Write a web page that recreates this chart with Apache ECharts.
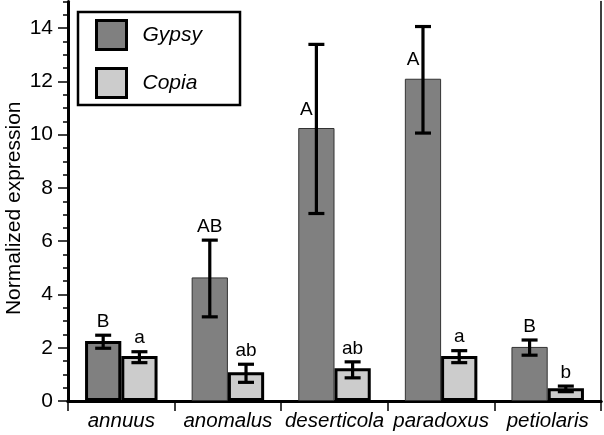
<!DOCTYPE html>
<html><head><meta charset="utf-8">
<script src="https://cdn.jsdelivr.net/npm/echarts@6/dist/echarts.min.js"></script>
<style>html,body{margin:0;padding:0;background:#fff}#c{width:604px;height:435px}</style>
</head><body><div id="c"></div>
<script>
const categories = ['annuus','anomalus','deserticola','paradoxus','petiolaris'];
const gypsyMean = [2.25, 4.64, 10.25, 12.10, 2.03];
const gypsyLow  = [1.98, 3.16, 7.04, 10.06, 1.72];
const gypsyHigh = [2.47, 6.04, 13.39, 14.06, 2.29];
const gypsyLetters = ['B','AB','A','A','B'];
const copiaMean = [1.69, 1.08, 1.23, 1.69, 0.48];
const copiaLow  = [1.44, 0.70, 0.87, 1.44, 0.35];
const copiaHigh = [1.85, 1.38, 1.47, 1.89, 0.56];
const copiaLetters = ['a','ab','ab','a','b'];
const yTickLabels = [0,2,4,6,8,10,12,14];
const yMinorTicks = [];
for (let v = 0; v <= 15; v += 0.5) yMinorTicks.push(v);

const CAT_GAP = 0.32;
const FONT = '"Liberation Sans", Arial, Helvetica, sans-serif';
const GYPSY_COLOR = '#808080';
const COPIA_COLOR = '#cccccc';

function errSeries(name, means, lows, highs, letters, side) {
  return {
    type: 'custom', name: name + ' err', z: 10, silent: true,
    xAxisIndex: 0, yAxisIndex: 0,
    data: categories.map((c, i) => [i, means[i], lows[i], highs[i]]),
    encode: { x: 0, y: [1, 2, 3] },
    renderItem(params, api) {
      const i = api.value(0);
      const band = api.size([1, 0])[0];
      const bw = band * (1 - CAT_GAP) / 2;
      const base = api.coord([i, 0]);
      const cx = base[0] + side * bw / 2;
      const mean = api.value(1);
      const yMean = api.coord([i, mean])[1];
      const yLo = api.coord([i, api.value(2)])[1];
      const yHi = api.coord([i, api.value(3)])[1];
      const cap = 8;
      const ls = { stroke: '#000', lineWidth: 3.2 };
      const letter = letters[params.dataIndex];
      const beside = mean > 8;
      const tx = beside ? cx - 10 : cx;
      const ty = beside ? yMean - 9 : yHi - 4;
      return {
        type: 'group',
        children: [
          { type: 'line', shape: { x1: cx, y1: yLo, x2: cx, y2: yHi }, style: ls },
          { type: 'line', shape: { x1: cx - cap, y1: yLo, x2: cx + cap, y2: yLo }, style: ls },
          { type: 'line', shape: { x1: cx - cap, y1: yHi, x2: cx + cap, y2: yHi }, style: ls },
          { type: 'text', style: { text: letter, x: tx, y: ty, fill: '#000',
              font: '19px ' + FONT, align: 'center', verticalAlign: 'bottom' } }
        ]
      };
    }
  };
}

const chart = echarts.init(document.getElementById('c'), null, { renderer: 'canvas' });
chart.setOption({
  animation: false,
  backgroundColor: '#fff',
  textStyle: { fontFamily: FONT },
  grid: { left: 68, right: 3, top: 1.5, bottom: 34, containLabel: false, outerBoundsMode: 'none' },
  legend: {
    orient: 'vertical', left: 78, top: 12,
    data: ['Gypsy', 'Copia'],
    icon: 'rect',
    itemWidth: 30, itemHeight: 29, itemGap: 16,
    padding: [7, 38, 6, 17],
    borderColor: '#000', borderWidth: 2.5,
    itemStyle: { borderColor: '#000', borderWidth: 3 },
    textStyle: { fontStyle: 'italic', fontSize: 21, color: '#000', padding: [0, 0, 0, 11], fontFamily: FONT }
  },
  xAxis: [{
    type: 'category', data: categories,
    axisLine: { lineStyle: { color: '#000', width: 3 } },
    axisTick: { show: true, length: 10, lineStyle: { color: '#000', width: 1.5 } },
    axisLabel: { fontStyle: 'italic', fontSize: 20.5, color: '#000', margin: 10, fontFamily: FONT, interval: 0 },
    splitLine: { show: false }
  }, {
    type: 'category', data: categories, position: 'top',
    axisLine: { lineStyle: { color: '#000', width: 3 } },
    axisTick: { show: false }, axisLabel: { show: false }, splitLine: { show: false }
  }],
  yAxis: [{
    type: 'value', min: 0, max: 15, interval: 0.5,
    name: 'Normalized expression', nameLocation: 'middle', nameGap: 43, nameMoveOverlap: false,
    nameTextStyle: { fontSize: 21, color: '#000', fontFamily: FONT, padding: [0, 14, 0, 0] },
    axisLine: { show: true, lineStyle: { color: '#000', width: 3 } },
    axisTick: { show: true, length: 5, customValues: yMinorTicks, lineStyle: { color: '#000', width: 1.5 } },
    axisLabel: { show: false },
    splitLine: { show: false }
  }, {
    type: 'value', min: 0, max: 15, position: 'left',
    axisLine: { show: false },
    axisTick: { show: true, length: 10, customValues: yTickLabels, lineStyle: { color: '#000', width: 1.5 } },
    axisLabel: { show: true, customValues: yTickLabels, fontSize: 21, color: '#000', margin: 15, fontFamily: FONT },
    splitLine: { show: false }
  }, {
    type: 'value', min: 0, max: 15, position: 'right',
    axisLine: { show: true, lineStyle: { color: '#000', width: 1.5 } },
    axisTick: { show: false }, axisLabel: { show: false }, splitLine: { show: false }
  }],
  series: [
    {
      name: 'Gypsy', type: 'bar', barGap: '0%', barCategoryGap: (CAT_GAP * 100) + '%',
      itemStyle: { color: GYPSY_COLOR, borderColor: '#000', borderWidth: 3 },
      data: gypsyMean.map((v, i) => i === 0 ? v : { value: v, itemStyle: { borderColor: '#333', borderWidth: 1 } })
    },
    {
      name: 'Copia', type: 'bar', barGap: '0%', barCategoryGap: (CAT_GAP * 100) + '%',
      itemStyle: { color: COPIA_COLOR, borderColor: '#000', borderWidth: 3 },
      data: copiaMean
    },
    errSeries('Gypsy', gypsyMean, gypsyLow, gypsyHigh, gypsyLetters, -1),
    errSeries('Copia', copiaMean, copiaLow, copiaHigh, copiaLetters, 1)
  ]
});
</script>
</body></html>
